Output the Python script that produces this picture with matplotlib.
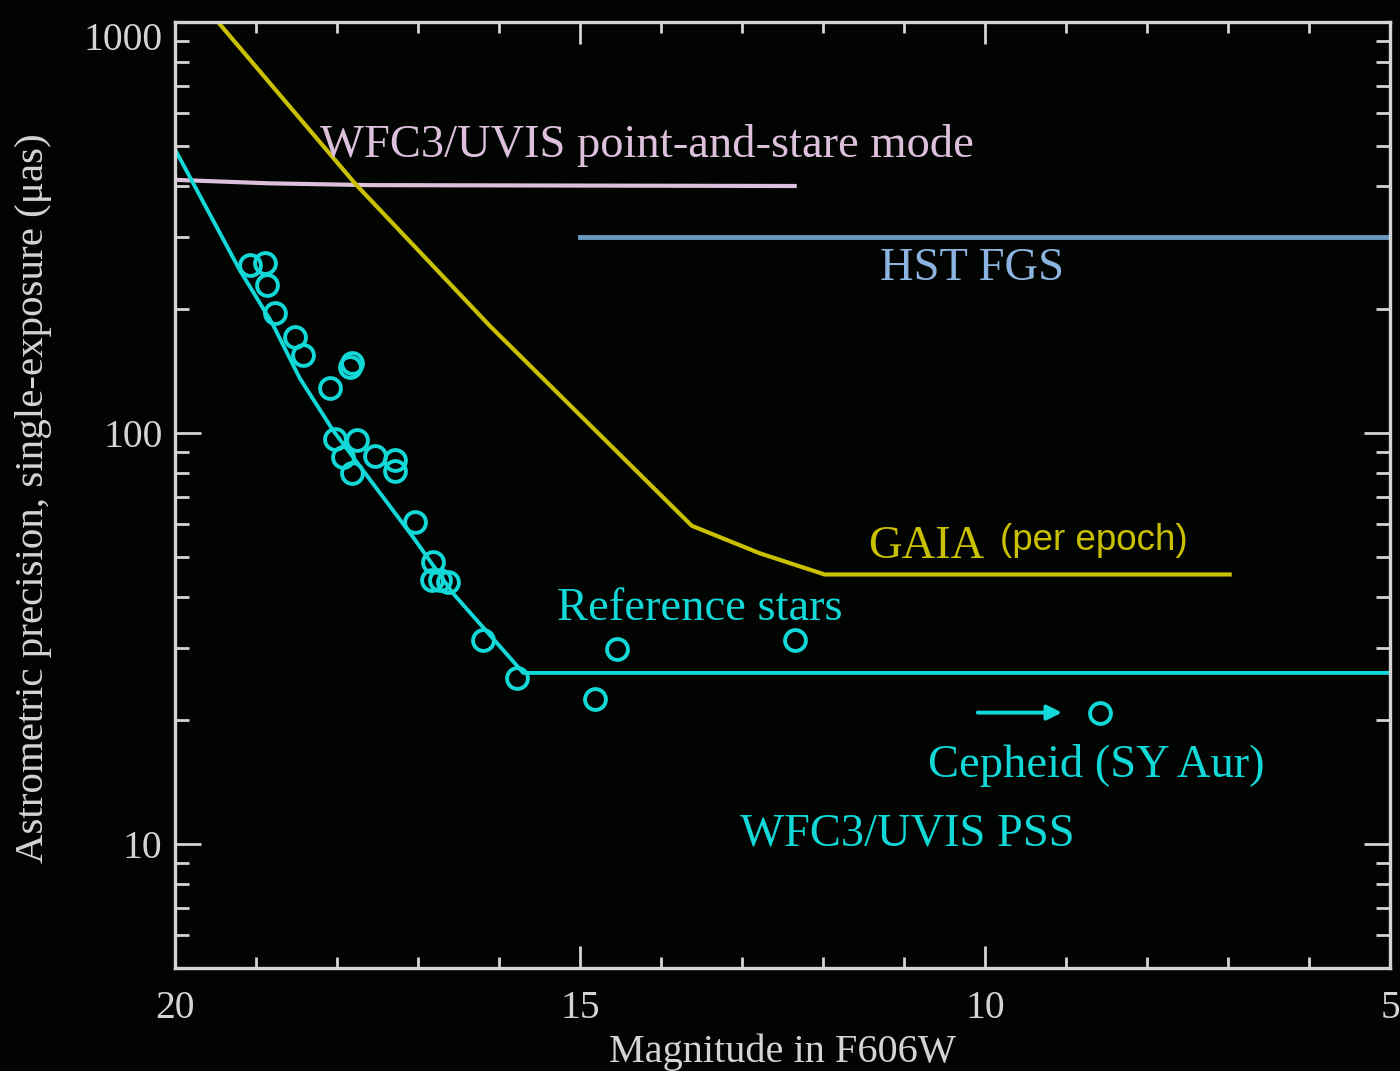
import matplotlib
matplotlib.use("Agg")
import matplotlib.pyplot as plt
from matplotlib.ticker import FixedLocator, NullFormatter, LogLocator

# reference stars (magnitude, precision in micro-arcsec)
ref_mag = [19.07, 18.89, 18.86, 18.77, 18.52, 18.42, 17.84, 17.81, 18.09,
           18.02, 17.75, 17.93, 17.53, 17.28, 17.28, 17.81, 17.04, 16.81,
           16.83, 16.73, 16.63, 16.20, 15.78, 14.54, 14.81, 12.35]
ref_prec = [256, 259, 229, 196, 171, 155, 145, 148, 129,
            97, 96, 87.5, 88, 86, 81, 80, 60.7, 48.5,
            43.9, 43.9, 43.4, 31.4, 25.3, 29.8, 22.6, 31.4]

# cepheid SY Aur
ceph_mag = [8.58]
ceph_prec = [20.9]

# WFC3/UVIS PSS curve
pss_mag = [20.0, 19.20, 18.80, 18.46, 18.05, 17.06, 16.57, 15.70, 5.0]
pss_prec = [490, 249, 185, 136, 101.6, 55.8, 40.8, 26.1, 26.1]

# GAIA per epoch
gaia_mag = [19.47, 17.77, 16.11, 13.62, 12.78, 11.98, 6.98]
gaia_prec = [1000, 403, 182, 59.5, 51.0, 45.3, 45.3]

# WFC3/UVIS point-and-stare mode
uvis_mag = [20.0, 18.83, 17.6, 12.35]
uvis_prec = [413, 405, 401, 399]

# HST FGS
fgs_mag = [15.0, 5.0]
fgs_prec = [300, 300]

bg = "#020402"
fg = "#d4d4d4"
cyan = "#12d8d8"
yellow = "#c8c000"
pink = "#dcc0dc"
blue_line = "#6a98c0"
blue_text = "#8cb4e0"
serif = "Liberation Serif"

fig = plt.figure(figsize=(14, 10.71), dpi=100, facecolor=bg)
ax = fig.add_axes([0.125, 0.0962, 0.8679, 0.8833], facecolor=bg)

ax.plot(uvis_mag, uvis_prec, color=pink, lw=3)
ax.plot(fgs_mag, fgs_prec, color=blue_line, lw=3.5)
ax.plot(gaia_mag, gaia_prec, color=yellow, lw=3)
ax.plot(pss_mag, pss_prec, color=cyan, lw=2.8)
ax.plot(ref_mag, ref_prec, "o", ms=15, mfc="none", mec=cyan, mew=2.8)
ax.plot(ceph_mag, ceph_prec, "o", ms=15, mfc="none", mec=cyan, mew=2.8)

ax.set_yscale("log")
ax.set_xlim(20, 5)
ax.set_ylim(5, 1000)

# labels on the plot
ax.text(18.21, 470, "WFC3/UVIS point-and-stare mode", color=pink,
        fontsize=33.5, family=serif, va="baseline")
ax.text(11.30, 236, "HST FGS", color=blue_text, fontsize=33.5,
        family=serif, va="baseline")
ax.text(11.44, 49.7, "GAIA", color=yellow, fontsize=33.5,
        family=serif, va="baseline")
ax.text(9.81, 51.9, "(per epoch)", color=yellow, fontsize=26.5,
        family="Liberation Sans", va="baseline")
ax.text(15.28, 35.1, "Reference stars", color=cyan, fontsize=33.5,
        family=serif, va="baseline")
ax.text(10.70, 14.6, "Cepheid (SY Aur)", color=cyan, fontsize=33.5,
        family=serif, va="baseline")
ax.text(13.02, 9.95, "WFC3/UVIS PSS", color=cyan, fontsize=33.5,
        family=serif, va="baseline")
ax.annotate("", xy=(9.05, 20.9), xytext=(10.09, 20.9),
            arrowprops=dict(arrowstyle="-|>", color=cyan, lw=2.8,
                            mutation_scale=22, shrinkA=0, shrinkB=0))

# axes styling
for s in ax.spines.values():
    s.set_color(fg)
    s.set_linewidth(2.4)

ax.xaxis.set_major_locator(FixedLocator([20, 15, 10, 5]))
ax.xaxis.set_minor_locator(FixedLocator(list(range(6, 20))))
ax.yaxis.set_major_locator(FixedLocator([10, 100, 1000]))
ax.yaxis.set_minor_locator(LogLocator(base=10, subs=range(2, 10)))
ax.yaxis.set_minor_formatter(NullFormatter())
ax.set_yticklabels(["10", "100", "1000"])
ax.set_xticklabels(["20", "15", "10", "5"])

ax.tick_params(which="both", direction="in", top=True, right=True,
               colors=fg, width=2)
ax.tick_params(axis="x", which="major", length=16, pad=16)
ax.tick_params(axis="x", which="minor", length=8)
ax.tick_params(axis="y", which="major", length=19, pad=9)
ax.tick_params(axis="y", which="minor", length=10)
for lab in ax.get_xticklabels() + ax.get_yticklabels():
    lab.set_fontfamily(serif)
    lab.set_fontsize(28.5)
    lab.set_color(fg)
# the top label sits below its tick, as in the original
ax.get_yticklabels()[-1].set_va("top")

ax.set_xlabel("Magnitude in F606W", fontsize=29, family=serif, color=fg)
ax.set_ylabel("Astrometric precision, single-exposure (\u03bcas)",
              fontsize=29.5, family=serif, color=fg)
ax.xaxis.set_label_coords(0.5, -0.069)
ax.yaxis.set_label_coords(-0.101, 0.497)

fig.savefig("out.png", dpi=100, facecolor=bg)
